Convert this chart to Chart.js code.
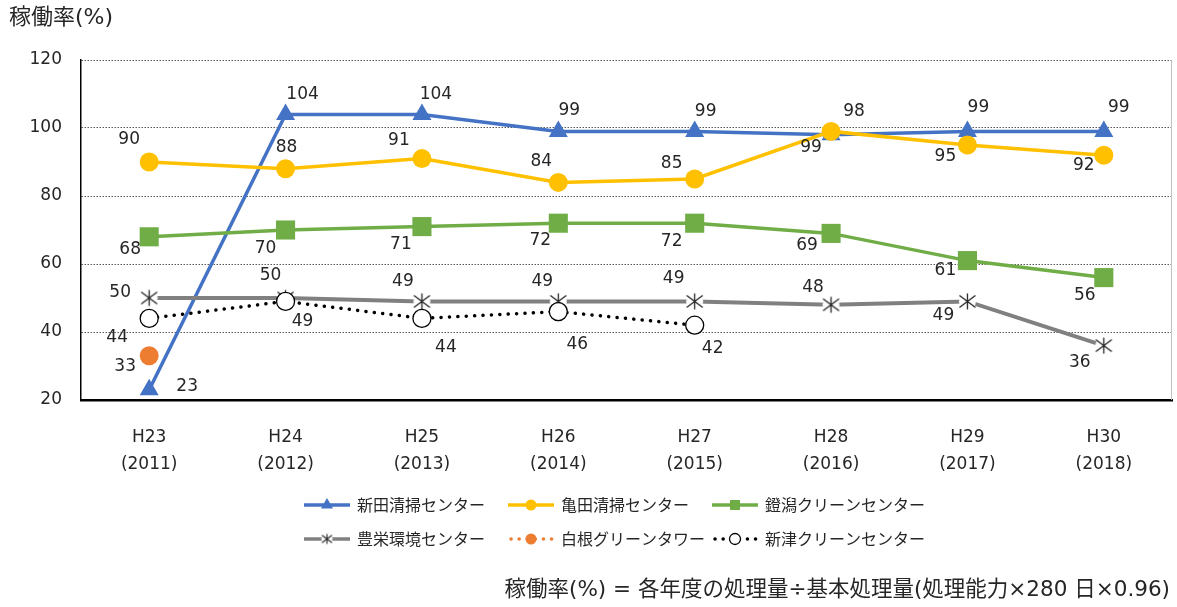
<!DOCTYPE html>
<html>
<head>
<meta charset="utf-8">
<script src="https://cdn.jsdelivr.net/npm/chart.js@4.4.0/dist/chart.umd.min.js"></script>
<style>
  html, body { margin: 0; padding: 0; background: #fff; }
  canvas { display: block; }
</style>
</head>
<body>
<canvas id="chart" width="1177" height="607"></canvas>
<script>
// Data
const categories = ['H23', 'H24', 'H25', 'H26', 'H27', 'H28', 'H29', 'H30'];
const years = ['(2011)', '(2012)', '(2013)', '(2014)', '(2015)', '(2016)', '(2017)', '(2018)'];
const shinden = [23, 104, 104, 99, 99, 98, 99, 99];
const kameda = [90, 88, 91, 84, 85, 99, 95, 92];
const abumigata = [68, 70, 71, 72, 72, 69, 61, 56];
const toyosaka = [50, 50, 49, 49, 49, 48, 49, 36];
const shirone = [33, null, null, null, null, null, null, null];
const niitsu = [44, 49, 44, 46, 42, null, null, null];
const yTicks = [20, 40, 60, 80, 100, 120];

const LATIN = '"DejaVu Sans", "Noto Sans CJK JP", sans-serif';
const JP = '"Noto Sans CJK JP", sans-serif';
const TEXT = '#262626';

// Excel-like star marker (X with a vertical bar on a white ground)
function starMarker(size, lw) {
    const c = document.createElement('canvas');
    c.width = size;
    c.height = size;
    const g = c.getContext('2d');
    const m = size / 2;
    g.fillStyle = '#fff';
    g.beginPath();
    g.arc(m, m, m - 1, 0, Math.PI * 2);
    g.fill();
    g.strokeStyle = TEXT;
    g.lineWidth = lw;
    const a = m - 1.5;
    g.beginPath();
    g.moveTo(m - a, m - a * 0.75); g.lineTo(m + a, m + a * 0.75);
    g.moveTo(m + a, m - a * 0.75); g.lineTo(m - a, m + a * 0.75);
    g.moveTo(m, m - a); g.lineTo(m, m + a);
    g.stroke();
    return c;
}

const bigStar = starMarker(19, 1.3);
const smallStar = starMarker(13, 1.1);

const datasets = [
    {
        label: '新田清掃センター', data: shinden,
        borderColor: '#4472C4', backgroundColor: '#4472C4', borderWidth: 3.5,
        pointStyle: 'triangle', pointRadius: 11, pointBorderWidth: 0, order: 6,
        labelOffsets: [[38, -3], [17, -20], [14, -20], [11, -21], [11, -20], [23, -23], [11, -24], [15, -24]]
    },
    {
        label: '亀田清掃センター', data: kameda,
        borderColor: '#FFC000', backgroundColor: '#FFC000', borderWidth: 3.5,
        pointStyle: 'circle', pointRadius: 9.5, pointBorderWidth: 0, order: 5,
        labelOffsets: [[-20, -22], [1, -21], [-23, -18], [-17, -21], [-23, -15], [-20, 16], [-22, 12], [-20, 10]]
    },
    {
        label: '鐙潟クリーンセンター', data: abumigata,
        borderColor: '#70AD47', backgroundColor: '#70AD47', borderWidth: 3.5,
        pointStyle: 'rect', pointRadius: 13.5, pointBorderWidth: 0, order: 4,
        labelOffsets: [[-19, 13], [-20, 19], [-21, 18], [-18, 17], [-23, 18], [-24, 12], [-22, 10], [-19, 18]]
    },
    {
        label: '豊栄環境センター', data: toyosaka,
        borderColor: '#808080', backgroundColor: '#808080', borderWidth: 4,
        pointStyle: bigStar, pointRadius: 9, order: 3, legendStar: smallStar,
        labelOffsets: [[-29, -5], [-15, -22], [-19, -20], [-16, -20], [-21, -23], [-18, -17], [-24, 14], [-24, 17]]
    },
    {
        label: '白根グリーンタワー', data: shirone,
        borderColor: '#ED7D31', backgroundColor: '#ED7D31', borderWidth: 3.5, borderDash: [0.1, 8], borderCapStyle: 'round',
        pointStyle: 'circle', pointRadius: 9.5, pointBorderWidth: 0, order: 2,
        labelOffsets: [[-24, 11]]
    },
    {
        label: '新津クリーンセンター', data: niitsu,
        borderColor: '#000000', backgroundColor: '#ffffff', borderWidth: 3.5, borderDash: [0.1, 8.3], borderCapStyle: 'round',
        pointStyle: 'circle', pointRadius: 9, pointBorderWidth: 1.3, pointBorderColor: '#000', pointBackgroundColor: '#fff', order: 1,
        labelOffsets: [[-32, 19], [17, 20], [24, 29], [19, 33], [18, 23]]
    }
];

// Draw value labels next to each point
const valueLabels = {
    id: 'valueLabels',
    afterDatasetsDraw(chart) {
        const ctx = chart.ctx;
        ctx.save();
        ctx.font = '17px ' + LATIN;
        ctx.fillStyle = TEXT;
        ctx.textAlign = 'center';
        ctx.textBaseline = 'middle';
        chart.data.datasets.forEach((ds, i) => {
            const meta = chart.getDatasetMeta(i);
            meta.data.forEach((pt, j) => {
                const v = ds.data[j];
                if (v === null || v === undefined) return;
                const off = ds.labelOffsets[j] || [0, -20];
                ctx.fillText(String(v), pt.x + off[0], pt.y + off[1]);
            });
        });
        ctx.restore();
    }
};

// Small marker drawing for the legend
function legendMarker(ctx, ds, x, y) {
    ctx.save();
    if (ds.legendStar) {
        ctx.drawImage(ds.legendStar, x - ds.legendStar.width / 2, y - ds.legendStar.height / 2);
    } else if (ds.pointStyle === 'triangle') {
        const r = 7;
        ctx.fillStyle = ds.backgroundColor;
        ctx.beginPath();
        ctx.moveTo(x, y - r);
        ctx.lineTo(x + r * 0.866, y + r * 0.5);
        ctx.lineTo(x - r * 0.866, y + r * 0.5);
        ctx.closePath();
        ctx.fill();
    } else if (ds.pointStyle === 'rect') {
        ctx.fillStyle = ds.backgroundColor;
        ctx.fillRect(x - 5, y - 5, 10, 10);
    } else {
        ctx.beginPath();
        ctx.arc(x, y, 5.5, 0, Math.PI * 2);
        ctx.fillStyle = ds.pointBackgroundColor || ds.backgroundColor;
        ctx.fill();
        if (ds.pointBorderWidth) {
            ctx.lineWidth = ds.pointBorderWidth;
            ctx.strokeStyle = ds.pointBorderColor;
            ctx.stroke();
        }
    }
    ctx.restore();
}

// Title, legend, footnote and right frame line
const decorations = {
    id: 'decorations',
    afterDraw(chart) {
        const ctx = chart.ctx;
        const area = chart.chartArea;
        ctx.save();

        ctx.strokeStyle = '#bfbfbf';
        ctx.lineWidth = 1;
        ctx.beginPath();
        ctx.moveTo(area.right - 0.5, area.top);
        ctx.lineTo(area.right - 0.5, area.bottom);
        ctx.stroke();

        ctx.fillStyle = TEXT;
        ctx.textBaseline = 'middle';
        ctx.textAlign = 'left';
        ctx.font = '22px ' + LATIN;
        ctx.fillText('稼働率(%)', 9, 18);

        const colX = [304, 508, 712];
        const rowY = [505, 539];
        chart.data.datasets.forEach((ds, i) => {
            const x0 = colX[i % 3];
            const y = rowY[Math.floor(i / 3)];
            ctx.save();
            ctx.strokeStyle = ds.borderColor;
            ctx.lineWidth = 3.5;
            ctx.lineCap = ds.borderDash ? 'round' : 'butt';
            ctx.setLineDash(ds.borderDash ? [0.1, 8] : []);
            ctx.beginPath();
            ctx.moveTo(x0 + (ds.borderDash ? 3 : 0), y);
            ctx.lineTo(x0 + 46, y);
            ctx.stroke();
            ctx.restore();
            legendMarker(ctx, ds, x0 + 23, y);
            ctx.fillStyle = TEXT;
            ctx.font = '16px ' + JP;
            ctx.fillText(ds.label, x0 + 53, y);
        });

        ctx.textAlign = 'right';
        ctx.font = '21.5px ' + LATIN;
        ctx.fillText('稼働率(%) = 各年度の処理量÷基本処理量(処理能力×280 日×0.96)', 1170, 590);
        ctx.restore();
    }
};

Chart.defaults.font.family = LATIN;
Chart.defaults.color = TEXT;

new Chart(document.getElementById('chart').getContext('2d'), {
    type: 'line',
    data: {
        labels: categories.map((c, i) => [c, years[i]]),
        datasets: datasets.map(ds => Object.assign({ tension: 0, clip: false, spanGaps: false, fill: false }, ds))
    },
    options: {
        responsive: false,
        animation: false,
        events: [],
        layout: { autoPadding: false, padding: { top: 60, right: 5, bottom: 127, left: 0 } },
        plugins: {
            legend: { display: false },
            tooltip: { enabled: false }
        },
        scales: {
            x: {
                offset: true,
                grid: { display: false, drawTicks: false },
                border: { display: true, color: '#000', width: 2.5 },
                ticks: { padding: 24, color: TEXT, maxRotation: 0, autoSkip: false, font: { size: 17, lineHeight: 1.6 } },
                afterFit: s => { s.height = 80; s.paddingLeft = 0; s.paddingRight = 0; }
            },
            y: {
                min: yTicks[0],
                max: yTicks[yTicks.length - 1],
                afterBuildTicks: s => { s.ticks = yTicks.map(v => ({ value: v })); },
                grid: { color: '#595959', lineWidth: 1, drawTicks: false },
                border: { display: true, color: '#000', width: 1.5, dash: [1.5, 1.5] },
                ticks: { padding: 19, color: TEXT, font: { size: 17 } },
                afterFit: s => { s.width = 81; }
            }
        }
    },
    plugins: [valueLabels, decorations]
});
</script>
</body>
</html>
